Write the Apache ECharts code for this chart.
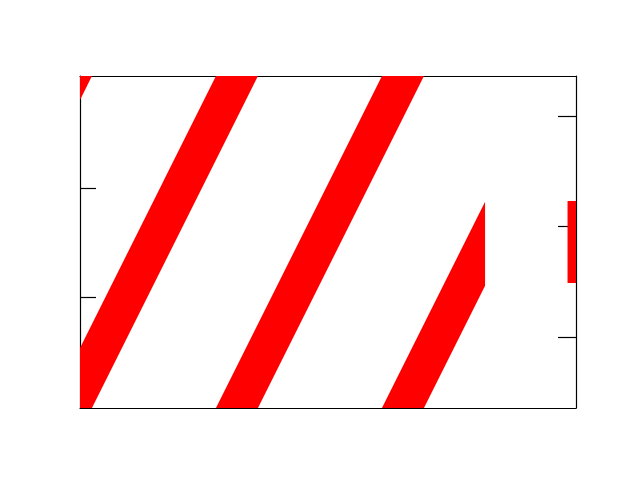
<!DOCTYPE html>
<html>
<head>
<meta charset="utf-8">
<script src="https://cdn.jsdelivr.net/npm/echarts@6/dist/echarts.min.js"></script>
<style>html,body{margin:0;padding:0;background:#fff}#c{width:640px;height:480px}</style>
</head>
<body>
<div id="c"></div>
<script>
// Data: red filled bands, each a polygon of [x, y] vertices in data units (left y-axis)
var band0 = [[-1.181, -0.02], [-0.928, -0.02], [0.072, 3.03], [-0.181, 3.03]];
var band1 = [[-0.181, -0.02], [0.072, -0.02], [1.072, 3.03], [0.819, 3.03]];
var band2 = [[0.819, -0.02], [1.072, -0.02], [2.072, 3.03], [1.819, 3.03]];
var band3 = [[1.819, -0.02], [2.072, -0.02], [2.44, 1.102], [2.44, 1.874]];
var band4 = [[2.937, 1.128], [3.05, 1.128], [3.05, 1.882], [2.937, 1.882]];
var bands = [band0, band1, band2, band3, band4];

// Axis ranges and tick values
var xRange = [0, 2.988];
var leftRange = [-0.02, 3.03];
var leftTicks = [1, 2];
var rightRange = [-0.644, 2.367];
var rightTicks = [0, 1, 2];

var chart = echarts.init(document.getElementById('c'), null, {renderer: 'canvas'});
var axisLine = {show: true, onZero: false, lineStyle: {color: '#000', width: 1.2}};
chart.setOption({
  animation: false,
  backgroundColor: '#fff',
  grid: {left: 80, top: 76, width: 496, height: 332, containLabel: false},
  xAxis: [
    {type: 'value', min: xRange[0], max: xRange[1], position: 'bottom',
     axisLine: axisLine, axisTick: {show: false}, axisLabel: {show: false}, splitLine: {show: false}},
    {type: 'value', min: xRange[0], max: xRange[1], position: 'top',
     axisLine: axisLine, axisTick: {show: false}, axisLabel: {show: false}, splitLine: {show: false}}
  ],
  yAxis: [
    {type: 'value', min: leftRange[0], max: leftRange[1], position: 'left',
     axisLine: axisLine,
     axisTick: {show: true, inside: true, length: 16, customValues: leftTicks, lineStyle: {color: '#000', width: 1.2}},
     axisLabel: {show: false}, splitLine: {show: false}},
    {type: 'value', min: rightRange[0], max: rightRange[1], position: 'right',
     axisLine: axisLine,
     axisTick: {show: true, inside: true, length: 18, customValues: rightTicks, lineStyle: {color: '#000', width: 1.2}},
     axisLabel: {show: false}, splitLine: {show: false}}
  ],
  series: [{
    type: 'custom',
    xAxisIndex: 0,
    yAxisIndex: 0,
    clip: true,
    data: bands.map(function (b, i) { return [b[0][0], b[0][1], i]; }),
    renderItem: function (params, api) {
      var poly = bands[params.dataIndex];
      var pts = poly.map(function (p) { return api.coord(p); });
      return {type: 'polygon', shape: {points: pts}, style: {fill: '#ff0000', stroke: null}};
    },
    z: 1
  }]
});
</script>
</body>
</html>
